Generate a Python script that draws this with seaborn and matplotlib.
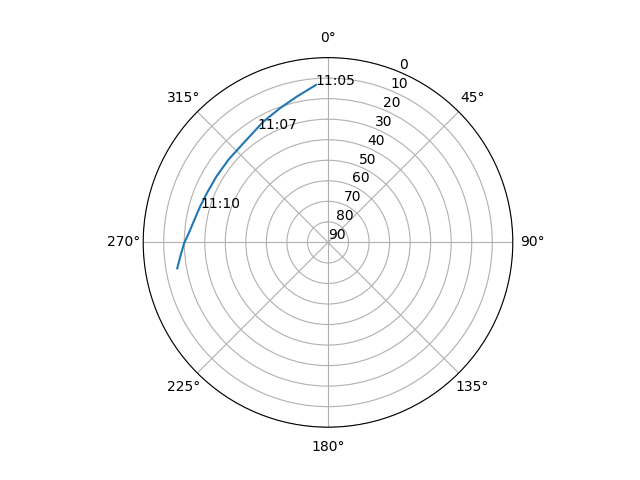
import numpy as np
import pandas as pd
import matplotlib
matplotlib.use("Agg")
import matplotlib.pyplot as plt
import seaborn as sns

# satellite track: azimuth (deg) and elevation (deg)
azimuth = [355.6, 347.9, 340.3, 331.8, 323.6, 316.9, 311.0, 309.3,
           300.6, 292.0, 288.8, 285.6, 280.3, 274.4, 269.6, 265.1, 260.25]
elevation = [13.1, 17.4, 20.6, 23.3, 25.8, 26.8, 27.0, 27.0,
             26.9, 26.3, 25.9, 25.3, 24.2, 22.3, 19.9, 18.0, 15.5]

# time labels along the track
label_text = ["11:05", "11:07", "11:10"]
label_az = [355.6, 328.2, 285.2]
label_el = [13.1, 25.0, 25.4]

df = pd.DataFrame({"theta": np.radians(azimuth), "el": elevation})

fig = plt.figure(figsize=(6.4, 4.8), dpi=100)
ax = fig.add_subplot(111, projection="polar")
ax.set_theta_zero_location("N")
ax.set_theta_direction(-1)

sns.lineplot(data=df, x="theta", y="el", sort=False, ax=ax)

for txt, az, el in zip(label_text, label_az, label_el):
    ax.text(np.radians(az), el, txt)

ax.set_rlim(90, 0)
ax.set_yticks(range(0, 91, 10))
ax.set_xlabel("")
ax.set_ylabel("")
ax.grid(True)

fig.savefig("out.png")
